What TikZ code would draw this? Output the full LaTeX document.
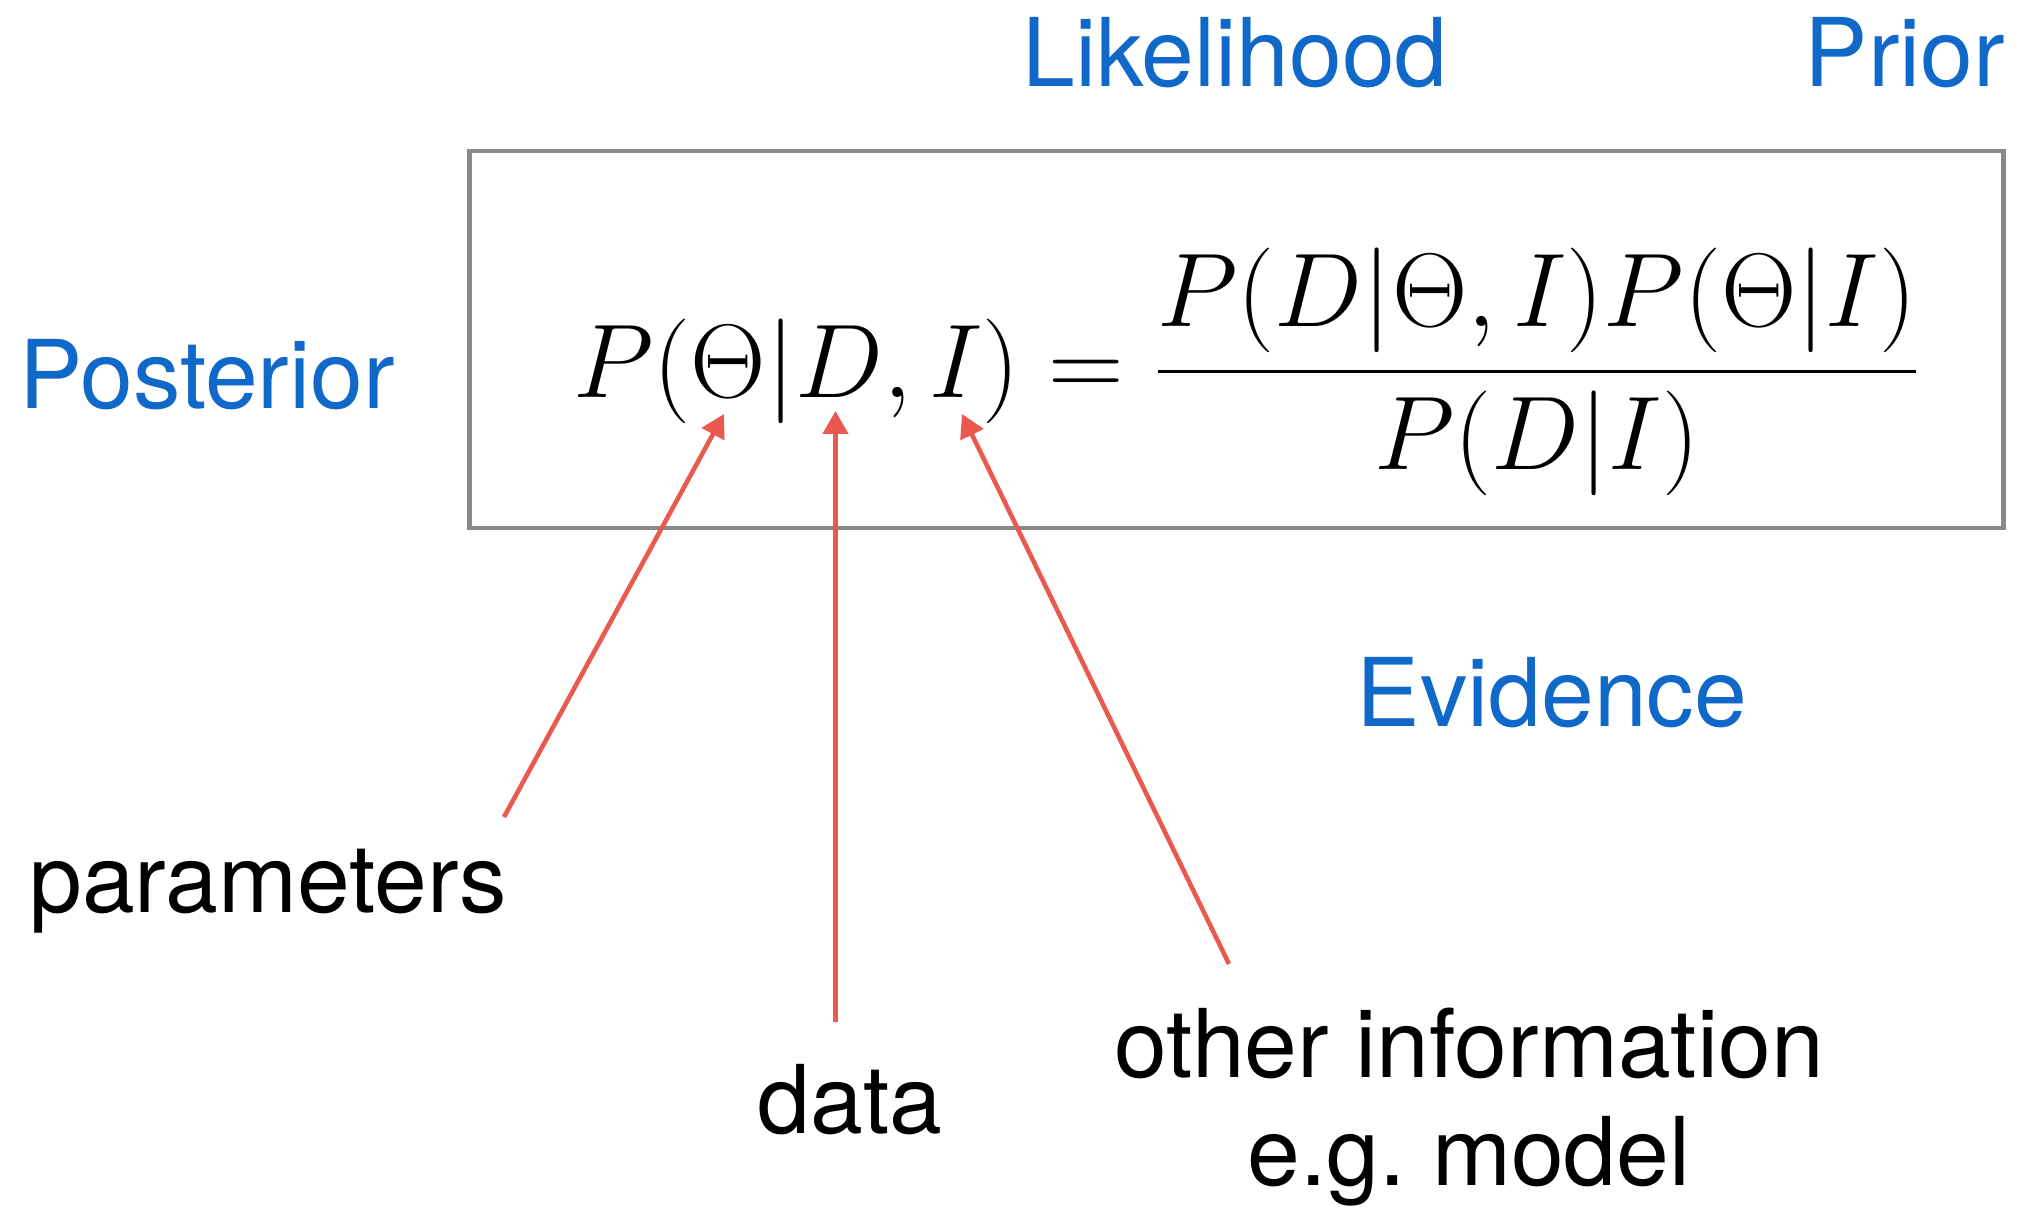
\documentclass[tikz,border=0pt]{standalone}
\usepackage{fix-cm}
\usepackage[no-math]{fontspec}
\setmainfont{TeX Gyre Heros}
\usepackage{amsmath}
\usetikzlibrary{arrows.meta, positioning}
\definecolor{termblue}{RGB}{16,104,200}
\definecolor{arrowred}{RGB}{234,88,80}
\definecolor{boxgray}{RGB}{136,137,140}

\begin{document}
\begin{tikzpicture}[
    term/.style={font=\fontsize{27}{31}\selectfont, text=termblue, anchor=base, inner sep=0pt},
    note/.style={font=\fontsize{27}{31}\selectfont, anchor=base, inner sep=0pt, align=center},
    arr/.style={-{Triangle[length=0.23cm, width=0.25cm]}, draw=arrowred, fill=arrowred, line width=1.3pt}
]
    \useasboundingbox (0,0) rectangle (20.28,12.07);

    % frame and formula
    \node[draw=boxgray, line width=1.2pt, minimum width=15.34cm, minimum height=3.77cm, inner sep=0pt] (frame) at (12.365,8.675) {};
    \node[inner sep=0pt, font=\fontsize{29.8}{36}\selectfont] (bayes) at (12.47,8.35)
        {$\displaystyle P(\Theta|D,I) = \frac{P(D|\Theta,I)P(\Theta|I)}{P(D|I)}$};

    % names of the terms
    \node[term] (posterior)  at (2.07,7.98)  {Posterior};
    \node[term] (likelihood) at (12.35,11.20) {Likelihood};
    \node[term] (prior)      at (19.05,11.20) {Prior};
    \node[term] (evidence)   at (15.52,4.80)  {Evidence};

    % what the symbols stand for
    \node[note] (params) at (2.68,2.94)  {parameters};
    \node[note] (data)   at (8.50,0.73)  {data};
    \node[note] (other)  at (14.69,0.21) {other information\\e.g.\ model};

    \coordinate (paramsTail) at (5.04,3.90);
    \coordinate (dataTail)   at (8.355,1.85);
    \coordinate (otherTail)  at (12.29,2.43);
    \coordinate (thetaTip)   at (7.24,7.93);
    \coordinate (dTip)       at (8.355,7.96);
    \coordinate (iTip)       at (9.62,7.93);

    \draw[arr] (paramsTail) -- (thetaTip);
    \draw[arr] (dataTail) -- (dTip);
    \draw[arr] (otherTail) -- (iTip);
\end{tikzpicture}
\end{document}
